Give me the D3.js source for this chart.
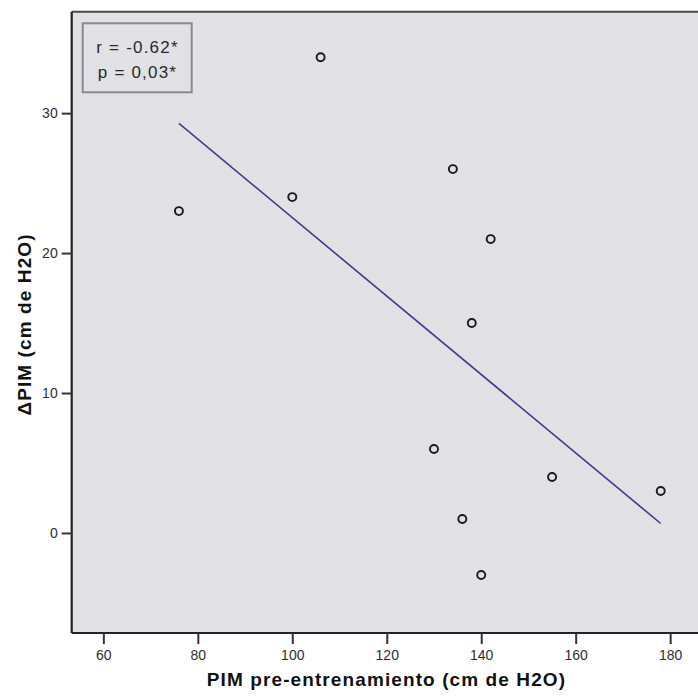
<!DOCTYPE html>
<html>
<head>
<meta charset="utf-8">
<script src="https://cdn.jsdelivr.net/npm/d3@7"></script>
<style>
  html, body { margin: 0; padding: 0; background: #ffffff; }
  svg { display: block; }
</style>
</head>
<body>
<svg id="chart" width="698" height="698"></svg>
<script>
// ---- data ----
const pimPre = [76, 100, 106, 134, 142, 138, 130, 155, 178, 136, 140];
const deltaPim = [23, 24, 34, 26, 21, 15, 6, 4, 3, 1, -3];
const xTicks = [60, 80, 100, 120, 140, 160, 180];
const yTicks = [0, 10, 20, 30];
const statLines = ["r = -0.62*", "p = 0,03*"];
const xTitle = "PIM pre-entrenamiento (cm de H2O)";
const yTitle = "\u0394PIM (cm de H2O)";

(function () {
const svg = d3.select("#chart");
const pLeft = 71.7, pTop = 11.7, pBottom = 633, pRight = 698.5;

const x = d3.scaleLinear().domain([53.3, 186]).range([pLeft, pRight]);
const y = d3.scaleLinear().domain([-7.15, 37.25]).range([pBottom, pTop]);

// plot background
svg.append("rect")
  .attr("x", pLeft).attr("y", pTop)
  .attr("width", 720 - pLeft).attr("height", pBottom - pTop)
  .attr("fill", "#e0e0e5");

// top border
svg.append("line")
  .attr("x1", pLeft).attr("x2", 720).attr("y1", pTop).attr("y2", pTop)
  .attr("stroke", "#4a4a4a").attr("stroke-width", 2);

// axes
const xAxis = d3.axisBottom(x).tickValues(xTicks).tickSize(11).tickPadding(6).tickSizeOuter(0);
const yAxis = d3.axisLeft(y).tickValues(yTicks).tickSize(10).tickPadding(4).tickSizeOuter(0);

const gx = svg.append("g").attr("transform", `translate(0,${pBottom})`).call(xAxis);
const gy = svg.append("g").attr("transform", `translate(${pLeft},0)`).call(yAxis);

[gx, gy].forEach(g => {
  g.select(".domain").attr("stroke", "#222").attr("stroke-width", 2.2);
  g.selectAll(".tick line").attr("stroke", "#333").attr("stroke-width", 2);
  g.selectAll(".tick text")
    .attr("fill", "#2e2e2e")
    .style("font-family", "'Liberation Sans', Arial, sans-serif")
    .style("font-size", "14px");
});
gx.select(".domain").attr("d", `M${pLeft},0H720`);
gy.select(".domain").attr("d", `M0,${pTop}V${pBottom}`);

// regression line computed from the data
const n = pimPre.length;
const mx = d3.mean(pimPre), my = d3.mean(deltaPim);
let sxy = 0, sxx = 0;
for (let i = 0; i < n; i++) {
  sxy += (pimPre[i] - mx) * (deltaPim[i] - my);
  sxx += (pimPre[i] - mx) ** 2;
}
const slope = sxy / sxx, intercept = my - slope * mx;
const [xmin, xmax] = d3.extent(pimPre);
svg.append("line")
  .attr("x1", x(xmin)).attr("y1", y(intercept + slope * xmin))
  .attr("x2", x(xmax)).attr("y2", y(intercept + slope * xmax))
  .attr("stroke", "#3b3b8c").attr("stroke-width", 1.6);

// points
svg.append("g").selectAll("circle")
  .data(pimPre.map((v, i) => [v, deltaPim[i]]))
  .join("circle")
  .attr("cx", d => x(d[0]))
  .attr("cy", d => y(d[1]))
  .attr("r", 4)
  .attr("fill", "none")
  .attr("stroke", "#1a1a1a")
  .attr("stroke-width", 1.9);

// stats box
svg.append("rect")
  .attr("x", 82.7).attr("y", 23.3).attr("width", 109).attr("height", 69)
  .attr("fill", "#e0e0e5").attr("stroke", "#8a8a8a").attr("stroke-width", 2);
svg.append("g").selectAll("text")
  .data(statLines)
  .join("text")
  .attr("x", 137.5)
  .attr("y", (d, i) => 52.5 + i * 25)
  .attr("text-anchor", "middle")
  .attr("fill", "#2a2a2a")
  .style("font-family", "'Liberation Sans', Arial, sans-serif")
  .style("font-size", "17px")
  .style("letter-spacing", "1.2px")
  .text(d => d);

// axis titles
svg.append("text")
  .attr("x", 386.5).attr("y", 686)
  .attr("text-anchor", "middle")
  .attr("fill", "#111")
  .style("font-family", "'Liberation Sans', Arial, sans-serif")
  .style("font-weight", "bold")
  .style("font-size", "19px")
  .style("letter-spacing", "1.1px")
  .text(xTitle);

svg.append("text")
  .attr("transform", "translate(31,324.5) rotate(-90)")
  .attr("text-anchor", "middle")
  .attr("fill", "#111")
  .style("font-family", "'Liberation Sans', Arial, sans-serif")
  .style("font-weight", "bold")
  .style("font-size", "19px")
  .style("letter-spacing", "1.1px")
  .text(yTitle);
})();
</script>
</body>
</html>
